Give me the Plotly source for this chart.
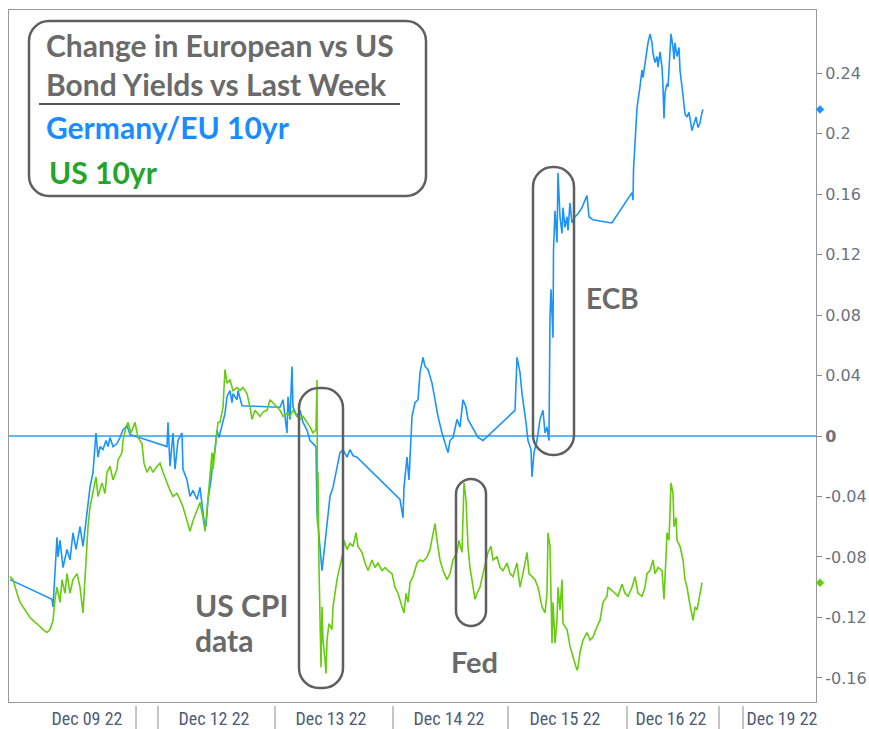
import plotly.graph_objects as go

# ---- data: (bar index, change in 10yr yield vs last week) ----
eu_10yr = [
    (1, -0.095), (43, -0.108), (44, -0.113), (48, -0.067), (49, -0.080), (51, -0.069), (54, -0.087), (58, -0.075),
    (61, -0.082), (64, -0.064), (67, -0.075), (71, -0.060), (74, -0.073), (77, -0.056), (78, -0.047), (81, -0.034),
    (84, -0.024), (86, -0.007), (87, 0.002), (89, -0.014), (91, -0.007), (94, -0.009), (97, -0.003), (99, -0.007),
    (101, -0.001), (104, -0.007), (108, -0.005), (111, -0.001), (114, 0.004), (118, 0.007), (121, 0.001),
    (158, -0.007), (159, 0.009), (161, -0.020), (164, 0.002), (166, -0.022), (169, -0.003), (173, 0.002),
    (174, -0.022), (178, -0.029), (181, -0.040), (184, -0.036), (188, -0.042), (191, -0.034), (193, -0.047),
    (195, -0.056), (197, -0.060), (199, -0.042), (202, -0.029), (204, -0.016), (206, -0.009), (208, 0.004),
    (210, -0.001), (213, 0.007), (216, 0.015), (218, 0.026), (221, 0.030), (223, 0.022), (224, 0.028),
    (228, 0.024), (229, 0.030), (233, 0.020), (271, 0.019), (274, 0.024), (276, 0.011), (278, 0.002),
    (279, 0.026), (281, 0.011), (283, 0.046), (284, 0.019), (288, 0.013), (291, 0.017), (294, 0.009),
    (298, 0.004), (301, -0.003), (304, -0.005), (307, -0.007), (308, -0.051), (311, -0.073), (313, -0.089),
    (315, -0.077), (318, -0.060), (321, -0.040), (324, -0.034), (328, -0.020), (331, -0.011), (334, -0.009),
    (338, -0.014), (341, -0.009), (344, -0.013), (348, -0.014), (391, -0.042), (394, -0.054), (395, -0.034),
    (398, -0.014), (400, -0.029), (403, 0.013), (406, 0.022), (409, 0.024), (411, 0.042), (414, 0.052),
    (416, 0.046), (419, 0.044), (423, 0.035), (426, 0.024), (429, 0.013), (433, 0.002), (436, -0.005),
    (439, -0.011), (441, -0.003), (444, -0.001), (448, 0.011), (451, 0.006), (454, 0.024), (457, 0.019),
    (459, 0.011), (463, 0.006), (466, 0.002), (469, -0.001), (474, -0.003), (506, 0.017), (508, 0.052),
    (511, 0.042), (513, 0.028), (515, 0.019), (517, 0.009), (519, -0.003), (522, -0.009), (523, -0.027),
    (525, -0.011), (528, -0.003), (531, 0.011), (534, 0.017), (536, 0.002), (538, 0.006), (540, -0.003),
    (541, 0.079), (542, 0.097), (544, 0.065), (544.5, 0.123), (546, 0.149), (548, 0.128), (549, 0.174),
    (551, 0.145), (553, 0.134), (554, 0.151), (556, 0.138), (558, 0.145), (559, 0.136), (561, 0.154),
    (563, 0.141), (566, 0.145), (569, 0.147), (573, 0.151), (576, 0.156), (578, 0.159), (580, 0.145),
    (584, 0.143), (601, 0.141), (603, 0.141), (623, 0.161), (624, 0.156), (624.5, 0.176), (626, 0.198),
    (627, 0.204), (628, 0.217), (631, 0.231), (633, 0.242), (634, 0.237), (636, 0.247), (638, 0.255),
    (639, 0.260), (641, 0.266), (643, 0.260), (644, 0.253), (646, 0.247), (648, 0.251), (649, 0.244),
    (651, 0.254), (653, 0.244), (654, 0.231), (655, 0.210), (656, 0.227), (658, 0.233), (659, 0.231),
    (661, 0.257), (662, 0.266), (664, 0.257), (665, 0.249), (666, 0.260), (668, 0.251), (670, 0.257),
    (671, 0.242), (673, 0.231), (674, 0.224), (676, 0.213), (678, 0.211), (680, 0.214), (683, 0.202),
    (685, 0.207), (687, 0.211), (689, 0.204), (691, 0.207), (693, 0.214), (694, 0.216),
]

us_10yr = [
    (1, -0.093), (4, -0.095), (8, -0.104), (11, -0.110), (14, -0.113), (18, -0.117), (21, -0.120), (24, -0.122),
    (28, -0.124), (31, -0.126), (34, -0.128), (38, -0.130), (41, -0.128), (44, -0.122), (46, -0.108),
    (48, -0.100), (51, -0.110), (53, -0.095), (56, -0.104), (58, -0.091), (61, -0.104), (64, -0.095),
    (68, -0.091), (71, -0.100), (74, -0.117), (76, -0.091), (78, -0.073), (79, -0.060), (81, -0.047),
    (84, -0.036), (87, -0.027), (89, -0.040), (93, -0.031), (96, -0.038), (98, -0.024), (101, -0.020),
    (104, -0.029), (108, -0.022), (109, -0.016), (113, -0.011), (114, -0.003), (117, 0.006), (119, 0.009),
    (122, 0.002), (124, 0.006), (126, 0.009), (129, -0.001), (133, -0.005), (135, -0.018), (138, -0.024),
    (141, -0.020), (144, -0.024), (148, -0.020), (151, -0.018), (154, -0.024), (158, -0.031), (161, -0.036),
    (164, -0.040), (168, -0.038), (171, -0.042), (174, -0.047), (178, -0.056), (181, -0.063), (184, -0.056),
    (188, -0.049), (191, -0.044), (194, -0.054), (196, -0.063), (198, -0.049), (201, -0.029), (203, -0.011),
    (204, -0.022), (207, -0.003), (209, 0.009), (211, 0.009), (214, 0.019), (216, 0.044), (218, 0.035),
    (221, 0.037), (224, 0.030), (228, 0.032), (231, 0.030), (234, 0.032), (238, 0.028), (241, 0.019),
    (243, 0.011), (246, 0.017), (251, 0.013), (254, 0.016), (258, 0.017), (261, 0.024), (264, 0.022),
    (268, 0.019), (271, 0.017), (274, 0.013), (278, 0.015), (281, 0.013), (284, 0.017), (288, 0.013),
    (291, 0.011), (294, 0.013), (298, 0.009), (301, 0.006), (304, 0.002), (307, 0.004), (308, 0.037),
    (308.5, -0.058), (309, -0.024), (310, -0.087), (312, -0.153), (313, -0.113), (314, -0.135), (316, -0.148),
    (317, -0.157), (318, -0.135), (320, -0.124), (323, -0.128), (324, -0.113), (328, -0.095), (331, -0.087),
    (334, -0.077), (335, -0.069), (338, -0.075), (341, -0.071), (344, -0.073), (347, -0.064), (349, -0.073),
    (353, -0.077), (356, -0.084), (359, -0.089), (363, -0.082), (366, -0.087), (369, -0.084), (373, -0.089),
    (376, -0.087), (379, -0.089), (383, -0.091), (386, -0.100), (389, -0.104), (393, -0.113), (395, -0.117),
    (397, -0.104), (399, -0.110), (401, -0.097), (404, -0.093), (408, -0.084), (411, -0.082), (414, -0.083),
    (418, -0.080), (421, -0.075), (424, -0.064), (426, -0.058), (428, -0.069), (431, -0.082), (434, -0.089),
    (438, -0.095), (441, -0.091), (444, -0.082), (448, -0.077), (450, -0.069), (453, -0.077), (455, -0.031),
    (457, -0.042), (459, -0.073), (461, -0.087), (464, -0.100), (466, -0.108), (468, -0.104), (471, -0.100),
    (474, -0.091), (477, -0.082), (479, -0.077), (482, -0.073), (484, -0.082), (488, -0.080), (491, -0.087),
    (494, -0.089), (498, -0.084), (501, -0.091), (504, -0.093), (508, -0.084), (511, -0.100), (514, -0.091),
    (518, -0.077), (520, -0.091), (523, -0.093), (526, -0.095), (529, -0.100), (533, -0.113), (536, -0.117),
    (538, -0.104), (539, -0.064), (541, -0.073), (543, -0.137), (544, -0.110), (546, -0.137), (548, -0.122),
    (549, -0.100), (551, -0.115), (553, -0.095), (554, -0.124), (558, -0.128), (561, -0.139), (564, -0.146),
    (568, -0.155), (569, -0.153), (571, -0.143), (574, -0.135), (578, -0.130), (581, -0.135), (584, -0.133),
    (588, -0.126), (591, -0.122), (594, -0.110), (598, -0.106), (599, -0.100), (603, -0.102), (606, -0.104),
    (609, -0.106), (613, -0.098), (616, -0.104), (619, -0.106), (623, -0.100), (626, -0.093), (629, -0.104),
    (633, -0.106), (636, -0.100), (638, -0.091), (641, -0.089), (644, -0.082), (646, -0.091), (649, -0.087),
    (653, -0.089), (655, -0.108), (657, -0.080), (658, -0.064), (660, -0.069), (662, -0.031), (664, -0.038),
    (665, -0.060), (667, -0.054), (668, -0.069), (671, -0.073), (674, -0.082), (676, -0.095), (678, -0.100),
    (680, -0.108), (683, -0.117), (684, -0.122), (686, -0.113), (688, -0.115), (690, -0.108), (693, -0.097),
]

day_labels = ["Dec 09 22", "Dec 12 22", "Dec 13 22", "Dec 14 22", "Dec 15 22", "Dec 16 22", "Dec 19 22"]
day_label_pos = [78, 205, 322, 440, 556, 662, 773]
day_separators = [127, 149, 266, 384, 499, 618, 710, 734]
y_ticks = [-0.16, -0.12, -0.08, -0.04, 0, 0.04, 0.08, 0.12, 0.16, 0.2, 0.24]
y_ticktext = ["-0.16", "-0.12", "-0.08", "-0.04", "<b>0</b>", "0.04", "0.08", "0.12", "0.16", "0.2", "0.24"]

eu_bar, eu_chg = zip(*eu_10yr)
us_bar, us_chg = zip(*us_10yr)

BLUE = "#1a94fa"
GREEN = "#66cc0f"
GREY_TXT = "#6a6a6a"
BOX = "#5f5f5f"

W, H = 869, 729
L, R, T, B = 9, 816, 10, 702
Y_RANGE = [-266 / 1512, 426 / 1512]


def px(x):
    return (x - L) / (R - L)


def py(y):
    return (B - y) / (B - T)


def rounded(x0, y0, x1, y1, r):
    # pixel box -> paper path with rounded corners
    k = 0.5523
    rx, ry = r / (R - L), r / (B - T)
    X0, X1 = px(x0), px(x1)
    Yt, Yb = py(y0), py(y1)
    return (
        f"M {X0+rx},{Yt} L {X1-rx},{Yt} "
        f"C {X1-rx+k*rx},{Yt} {X1},{Yt-ry+k*ry} {X1},{Yt-ry} "
        f"L {X1},{Yb+ry} "
        f"C {X1},{Yb+ry-k*ry} {X1-rx+k*rx},{Yb} {X1-rx},{Yb} "
        f"L {X0+rx},{Yb} "
        f"C {X0+rx-k*rx},{Yb} {X0},{Yb+ry-k*ry} {X0},{Yb+ry} "
        f"L {X0},{Yt-ry} "
        f"C {X0},{Yt-ry+k*ry} {X0+rx-k*rx},{Yt} {X0+rx},{Yt} Z"
    )


def diamond(value, color):
    # last-value marker sitting on the right price axis
    hx = 4 / (R - L)
    hy = 4 * (Y_RANGE[1] - Y_RANGE[0]) / (B - T)
    cx = px(820)
    path = (f"M {cx},{value + hy} L {cx + hx},{value} L {cx},{value - hy} "
            f"L {cx - hx},{value} Z")
    return dict(type="path", xref="paper", yref="y", path=path,
                fillcolor=color, line=dict(color=color, width=0.5))


fig = go.Figure()
fig.add_trace(go.Scatter(x=eu_bar, y=eu_chg, mode="lines", line=dict(color=BLUE, width=1.6),
                         showlegend=False, hoverinfo="skip"))
fig.add_trace(go.Scatter(x=us_bar, y=us_chg, mode="lines", line=dict(color=GREEN, width=1.6),
                         showlegend=False, hoverinfo="skip"))

shapes = []
for s in day_separators:
    shapes.append(dict(type="line", xref="x", yref="paper", x0=s, x1=s,
                       y0=-4 / (B - T), y1=-27 / (B - T), line=dict(color="#8a8a8a", width=1)))

shapes.append(diamond(eu_chg[-1], BLUE))
shapes.append(diamond(us_chg[-1], GREEN))

# boxes
shapes.append(dict(type="path", xref="paper", yref="paper", path=rounded(29, 21, 426, 196, 20),
                   line=dict(color=BOX, width=2.5)))
shapes.append(dict(type="line", xref="paper", yref="paper", x0=px(39), x1=px(400), y0=py(104), y1=py(104),
                   line=dict(color="#555555", width=2)))
shapes.append(dict(type="path", xref="paper", yref="paper", path=rounded(299, 388, 343, 688, 20),
                   line=dict(color=BOX, width=2.5)))
shapes.append(dict(type="path", xref="paper", yref="paper", path=rounded(456, 479, 486, 626, 15),
                   line=dict(color=BOX, width=2.5)))
shapes.append(dict(type="path", xref="paper", yref="paper", path=rounded(533, 167, 574, 455, 20),
                   line=dict(color=BOX, width=2.5)))

FONT_B = "Lato"
ann = [
    dict(x=px(44), y=py(25), text="Change in European vs US<br>Bond Yields vs Last Week",
         font=dict(family=FONT_B, size=30, color=GREY_TXT, weight=700), xanchor="left", yanchor="top", align="left"),
    dict(x=px(44), y=py(127), text="Germany/EU 10yr", font=dict(family=FONT_B, size=30, color="#1a8cff", weight=700),
         xanchor="left", yanchor="middle"),
    dict(x=px(47), y=py(172), text="US 10yr", font=dict(family=FONT_B, size=30, color="#22a52a", weight=700),
         xanchor="left", yanchor="middle"),
    dict(x=px(193), y=py(605), text="US CPI", font=dict(family=FONT_B, size=30, color=GREY_TXT, weight=700),
         xanchor="left", yanchor="middle"),
    dict(x=px(193), y=py(640), text="data", font=dict(family=FONT_B, size=30, color=GREY_TXT, weight=700),
         xanchor="left", yanchor="middle"),
    dict(x=px(474), y=py(661), text="Fed", font=dict(family=FONT_B, size=29, color=GREY_TXT, weight=700),
         xanchor="center", yanchor="middle"),
    dict(x=px(612), y=py(298), text="ECB", font=dict(family=FONT_B, size=28, color=GREY_TXT, weight=700),
         xanchor="center", yanchor="middle"),
]
for a in ann:
    a.update(xref="paper", yref="paper", showarrow=False)

fig.update_layout(
    width=W, height=H,
    margin=dict(l=L, r=W - R, t=T, b=H - B),
    paper_bgcolor="white", plot_bgcolor="white",
    shapes=shapes, annotations=ann,
    xaxis=dict(range=[0, R - L], showgrid=False, zeroline=False, showline=True, mirror=True,
               linecolor="#9a9a9a", linewidth=1, tickvals=day_label_pos, ticktext=day_labels,
               ticks="", tickfont=dict(family="Liberation Sans Narrow, Roboto Condensed, Liberation Sans",
                                       size=18, color="#4f5b78"), automargin=False),
    yaxis=dict(range=Y_RANGE, side="right", showgrid=False, zeroline=True,
               zerolinecolor="#5cb6f7", zerolinewidth=1.5, showline=True, mirror=True,
               linecolor="#9a9a9a", linewidth=1, tickvals=y_ticks, ticktext=y_ticktext,
               ticks="outside", ticklen=5, tickcolor="#8a8a8a",
               tickfont=dict(family="DejaVu Sans", size=16, color="#6b7280"), automargin=False),
)

fig.write_html("out.html", config={"displayModeBar": False},
               post_script="document.body.style.margin='0';document.body.style.overflow='hidden';")
